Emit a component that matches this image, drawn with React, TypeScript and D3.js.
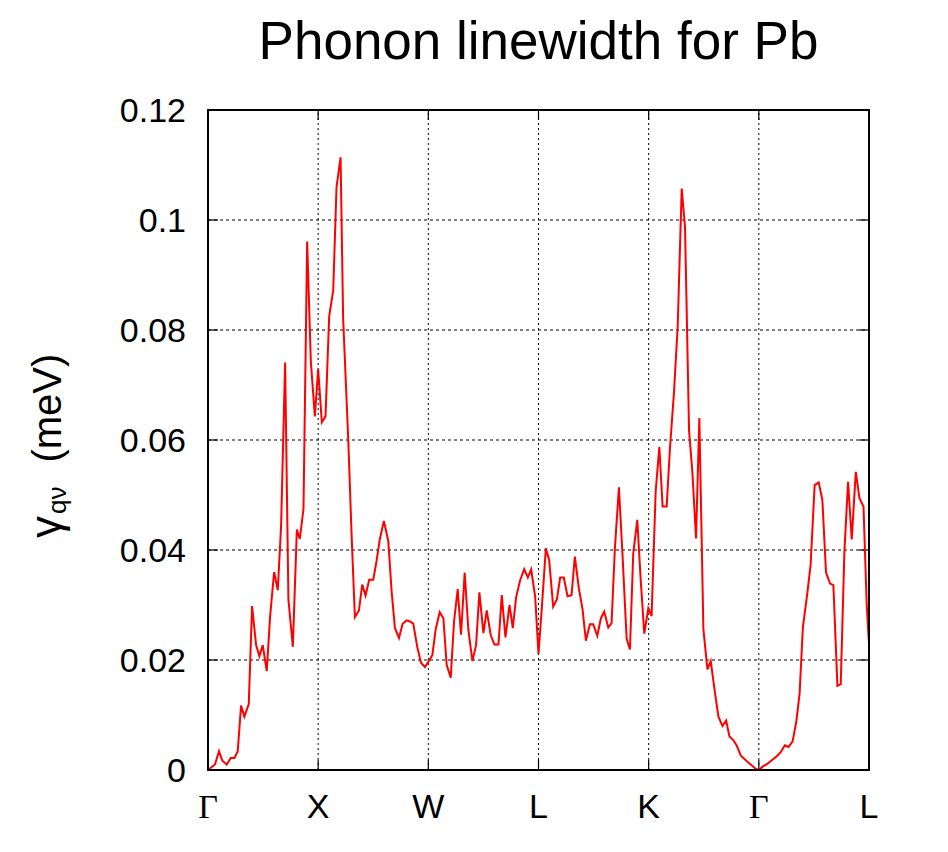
import React from "react";
import * as d3 from "d3";

const title = "Phonon linewidth for Pb";
const kLabels = ["Γ", "X", "W", "L", "K", "Γ", "L"];
const kIndex = [0, 30, 60, 90, 120, 150, 180];
const yTicks = [0, 0.02, 0.04, 0.06, 0.08, 0.1, 0.12];
const yTickLabels = ["0", "0.02", "0.04", "0.06", "0.08", "0.1", "0.12"];

// q-point index along path
const qIdx = [
  0, 1.9, 3, 3.9, 5.1, 6.2, 7.2, 8.1, 9, 9.9, 11.1, 12, 13.1, 14, 14.9, 16, 16.9, 18, 19, 19.9,
  21, 21.9, 23.1, 24.2, 25, 26, 27, 28, 29.1, 30, 31, 32, 33, 34.1, 35, 36.1, 36.8, 38.2, 39.1, 40,
  41.1, 42, 42.9, 43.9, 45, 45.9, 46.8, 47.9, 49.1, 50, 50.9, 52, 53, 54.1, 55, 55.9, 57, 58, 59.1, 60,
  61.1, 62, 63.1, 64.1, 65, 66.1, 67, 68, 68.9, 69.9, 70.9, 72, 73, 73.9, 75, 75.9, 77, 78, 79.1, 80,
  81, 82.1, 83, 83.9, 85, 86.1, 87.1, 88, 89.1, 90, 90.9, 92, 92.9, 94, 95, 95.9, 96.9, 97.9, 99, 99.9,
  101, 102, 102.9, 104, 104.9, 106, 107, 107.9, 109, 109.9, 110.8, 111.9, 112.9, 114, 114.9, 115.8, 116.9, 117.8, 118.8, 119.9,
  120.8, 121.9, 122.9, 123.8, 124.9, 125.8, 126.9, 127.9, 129, 129.9, 131, 131.9, 132.9, 133.8, 134.9, 136, 136.9, 137.9, 139, 140.1,
  141.1, 142, 143.1, 144, 145.1, 146.1, 147.2, 148.1, 149.2, 150, 151.2, 152.1, 153, 154.9, 156, 157.1, 158.1, 159.2, 160.2, 161.1,
  162, 163.2, 164.1, 165.2, 166.3, 167.3, 168.3, 169.4, 170.3, 171.4, 172.3, 173.3, 174.3, 175.3, 176.4, 177.4, 178.5, 179.4, 180,
];

// linewidth gamma (meV)
const gamma = [
  0, 0.001, 0.0034, 0.0017, 0.001, 0.0022, 0.0022, 0.0034, 0.0117, 0.0097, 0.012, 0.0298, 0.0227, 0.0207, 0.0227, 0.018, 0.0278, 0.036, 0.0327, 0.0443,
  0.0741, 0.031, 0.0224, 0.0437, 0.042, 0.0475, 0.0961, 0.0743, 0.0643, 0.0729, 0.0632, 0.0643, 0.0825, 0.0872, 0.106, 0.1114, 0.0821, 0.06, 0.0428, 0.0278,
  0.029, 0.0337, 0.0317, 0.0346, 0.0346, 0.038, 0.042, 0.0453, 0.0416, 0.0325, 0.0258, 0.024, 0.0266, 0.0272, 0.027, 0.0266, 0.0223, 0.0195, 0.0187, 0.0197,
  0.0209, 0.0256, 0.0287, 0.0276, 0.0191, 0.0168, 0.027, 0.0329, 0.0246, 0.0359, 0.0255, 0.0198, 0.0227, 0.0323, 0.0249, 0.029, 0.0245, 0.0228, 0.0228, 0.0318,
  0.0241, 0.03, 0.0258, 0.0314, 0.0345, 0.0365, 0.035, 0.0365, 0.0315, 0.0211, 0.0294, 0.0403, 0.0382, 0.0297, 0.031, 0.035, 0.035, 0.0316, 0.0318, 0.0388,
  0.033, 0.0292, 0.0235, 0.0265, 0.0265, 0.0244, 0.0276, 0.0288, 0.0259, 0.0267, 0.0403, 0.0514, 0.0388, 0.0239, 0.0219, 0.0394, 0.0455, 0.0349, 0.0248, 0.0294,
  0.028, 0.0506, 0.0587, 0.0479, 0.0479, 0.0585, 0.0687, 0.0806, 0.1057, 0.0987, 0.0617, 0.0542, 0.0421, 0.064, 0.0256, 0.0183, 0.0198, 0.0148, 0.0097, 0.008,
  0.009, 0.0061, 0.0054, 0.0044, 0.0026, 0.002, 0.0013, 0.0008, 0.0002, 0, 0.0007, 0.001, 0.0015, 0.0025, 0.0033, 0.0045, 0.0042, 0.0052, 0.0088, 0.0139,
  0.026, 0.0321, 0.0373, 0.0518, 0.0523, 0.0491, 0.0359, 0.0339, 0.0336, 0.0153, 0.0156, 0.0397, 0.0524, 0.0419, 0.0542, 0.0494, 0.0479, 0.0297, 0.023,
];

const W = 948;
const H = 852;
const m = { left: 208, right: 79, top: 110, bottom: 82 };

export default function App() {
  const x = d3.scaleLinear().domain([0, 180]).range([m.left, W - m.right]);
  const y = d3.scaleLinear().domain([0, 0.12]).range([H - m.bottom, m.top]);
  const pts: [number, number][] = qIdx.map((q, i) => [q, gamma[i]]);
  const line = d3
    .line<[number, number]>()
    .x((d) => x(d[0]))
    .y((d) => y(d[1]));
  const x0 = m.left;
  const x1 = W - m.right;
  const y0 = H - m.bottom;
  const y1 = m.top;
  const font = "'Liberation Sans', Arial, sans-serif";
  return (
    <svg
      width={W}
      height={H}
      style={{ position: "absolute", left: 0, top: 0, background: "#fff" }}
      fontFamily={font}
    >
      <rect x={0} y={0} width={W} height={H} fill="#fff" />
      <text x={(x0 + x1) / 2} y={59} textAnchor="middle" fontSize={53} fill="#000">
        {title}
      </text>
      {/* grid */}
      {yTicks.slice(1, -1).map((t) => (
        <line key={"gy" + t} x1={x0} x2={x1} y1={y(t)} y2={y(t)} stroke="#000" strokeWidth={1} strokeDasharray="3,3" />
      ))}
      {kIndex.slice(1, -1).map((k, i) => (
        <line key={"gx" + i} x1={x(k)} x2={x(k)} y1={y0} y2={y1} stroke="#000" strokeWidth={1} strokeDasharray="2,3" />
      ))}
      {/* ticks */}
      {yTicks.map((t) => (
        <g key={"ty" + t}>
          <line x1={x0} x2={x0 + 10} y1={y(t)} y2={y(t)} stroke="#000" strokeWidth={1.2} />
          <line x1={x1} x2={x1 - 10} y1={y(t)} y2={y(t)} stroke="#000" strokeWidth={1.2} />
        </g>
      ))}
      {kIndex.map((k, i) => (
        <g key={"tx" + i}>
          <line x1={x(k)} x2={x(k)} y1={y0} y2={y0 - 10} stroke="#000" strokeWidth={1.2} />
          <line x1={x(k)} x2={x(k)} y1={y1} y2={y1 + 10} stroke="#000" strokeWidth={1.2} />
        </g>
      ))}
      {/* data */}
      <path d={line(pts) || ""} fill="none" stroke="#ff0000" strokeWidth={2} strokeLinejoin="miter" />
      {/* frame */}
      <rect x={x0} y={y1} width={x1 - x0} height={y0 - y1} fill="none" stroke="#000" strokeWidth={2} />
      {/* y tick labels */}
      {yTicks.map((t, i) => (
        <text key={"yl" + t} x={186} y={y(t)} dy="0.35em" textAnchor="end" fontSize={34} fill="#000">
          {yTickLabels[i]}
        </text>
      ))}
      {/* x tick labels */}
      {kIndex.map((k, i) => (
        <text
          key={"xl" + i}
          x={x(k)}
          y={818}
          textAnchor="middle"
          fontSize={34}
          fill="#000"
          fontFamily={kLabels[i] === "Γ" ? "'Liberation Serif', 'Times New Roman', serif" : font}
        >
          {kLabels[i]}
        </text>
      ))}
      {/* y axis label */}
      <text transform="translate(61, 538) rotate(-90)" textAnchor="start" fontSize={40} fill="#000">
        <tspan fontSize={44}>γ</tspan>
        <tspan fontSize={26} dy={5} dx={2}>qν</tspan>
        <tspan dy={-5} dx={24}>(meV)</tspan>
      </text>
    </svg>
  );
}
